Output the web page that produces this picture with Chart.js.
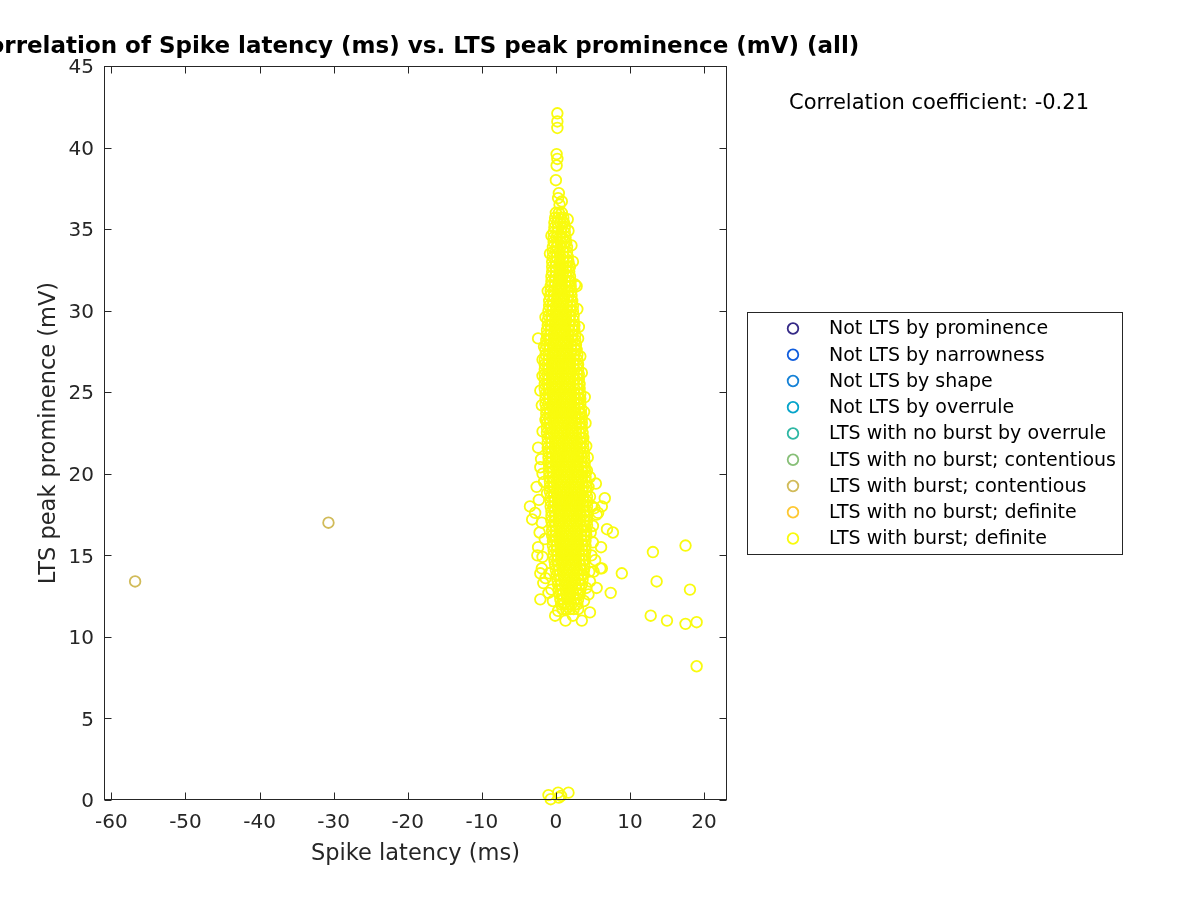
<!DOCTYPE html>
<html>
<head>
<meta charset="utf-8">
<script src="https://cdn.jsdelivr.net/npm/chart.js@4/dist/chart.umd.min.js"></script>
<style>
  body { margin: 0; background: #fff; }
  canvas { display: block; }
</style>
</head>
<body>
<canvas id="myChart" width="1200" height="900"></canvas>
<script>
// categories (legend order)
const categories = [
  'Not LTS by prominence',
  'Not LTS by narrowness',
  'Not LTS by shape',
  'Not LTS by overrule',
  'LTS with no burst by overrule',
  'LTS with no burst; contentious',
  'LTS with burst; contentious',
  'LTS with no burst; definite',
  'LTS with burst; definite'
];
const catColors = ['#352a87', '#0f5cdd', '#1481d6', '#06a4ca', '#2eb7a4',
                   '#87bf77', '#d1bb59', '#fec832', '#f9fb0e'];

const xTicks = [-60, -50, -40, -30, -20, -10, 0, 10, 20];
const yTicks = [0, 5, 10, 15, 20, 25, 30, 35, 40, 45];

// LTS with burst; contentious
const contentiousLatency = [-56.8, -30.7];
const contentiousProminence = [13.4, 17.0];

// LTS with burst; definite -- dense core, one row per prominence level
// [prominence, [latencies...]]
const coreRows = [
  [36.0, [0, 0.4, 0.8]],
  [35.7, [-0.1, 0.3, 0.7, 1.0]],
  [35.4, [-0.2, 0.2, 0.6, 1.0, 1.1]],
  [35.1, [-0.2, 0.3, 0.8, 1.2]],
  [34.8, [-0.3, 0.2, 0.7, 1.2]],
  [34.5, [-0.3, 0.1, 0.5, 0.9, 1.3]],
  [34.2, [-0.3, 0.2, 0.7, 1.2, 1.4]],
  [33.9, [-0.4, 0.1, 0.6, 1.1, 1.5]],
  [33.6, [-0.4, 0.0, 0.5, 1.0, 1.5]],
  [33.3, [-0.4, 0.1, 0.6, 1.1, 1.6]],
  [33.0, [-0.5, 0.0, 0.5, 1.0, 1.5, 1.7]],
  [32.7, [-0.5, -0.1, 0.4, 0.9, 1.4, 1.8]],
  [32.4, [-0.5, 0.0, 0.5, 1.0, 1.5, 1.8]],
  [32.1, [-0.6, -0.1, 0.4, 0.9, 1.4, 1.9]],
  [31.8, [-0.6, -0.2, 0.3, 0.8, 1.3, 1.8, 2.0]],
  [31.5, [-0.7, -0.2, 0.3, 0.8, 1.3, 1.8, 2.0]],
  [31.2, [-0.7, -0.3, 0.2, 0.7, 1.2, 1.7, 2.1]],
  [30.9, [-0.8, -0.3, 0.2, 0.7, 1.2, 1.7, 2.1]],
  [30.6, [-0.9, -0.4, 0.1, 0.6, 1.1, 1.6, 2.1, 2.2]],
  [30.3, [-0.9, -0.5, 0.0, 0.5, 1.0, 1.5, 2.0, 2.3]],
  [30.0, [-1.0, -0.5, 0.0, 0.5, 1.0, 1.5, 2.0, 2.3]],
  [29.7, [-1.0, -0.6, -0.1, 0.4, 0.9, 1.4, 1.9, 2.4]],
  [29.4, [-1.1, -0.6, -0.1, 0.4, 0.9, 1.4, 1.9, 2.4]],
  [29.1, [-1.1, -0.7, -0.2, 0.3, 0.8, 1.3, 1.8, 2.3, 2.5]],
  [28.8, [-1.2, -0.7, -0.2, 0.3, 0.8, 1.3, 1.8, 2.3, 2.5]],
  [28.5, [-1.2, -0.8, -0.3, 0.2, 0.7, 1.2, 1.7, 2.2, 2.6]],
  [28.2, [-1.3, -0.8, -0.3, 0.2, 0.7, 1.2, 1.7, 2.2, 2.6]],
  [27.9, [-1.3, -0.9, -0.4, 0.1, 0.6, 1.1, 1.6, 2.1, 2.6, 2.7]],
  [27.6, [-1.4, -0.9, -0.4, 0.1, 0.6, 1.1, 1.6, 2.1, 2.6, 2.8]],
  [27.3, [-1.4, -1.0, -0.5, 0.0, 0.5, 1.0, 1.5, 2.0, 2.5, 2.9]],
  [27.0, [-1.5, -1.0, -0.5, 0.0, 0.5, 1.0, 1.5, 2.0, 2.5, 2.9]],
  [26.7, [-1.5, -1.1, -0.6, -0.1, 0.4, 0.9, 1.4, 1.9, 2.4, 2.9, 3.0]],
  [26.4, [-1.5, -1.0, -0.5, 0.0, 0.5, 1.0, 1.5, 2.0, 2.5, 3.0]],
  [26.1, [-1.5, -1.1, -0.6, -0.1, 0.4, 0.9, 1.4, 1.9, 2.4, 2.9, 3.1]],
  [25.8, [-1.5, -1.0, -0.5, 0.0, 0.5, 1.0, 1.5, 2.0, 2.5, 3.0, 3.1]],
  [25.5, [-1.5, -1.1, -0.6, -0.1, 0.4, 0.9, 1.4, 1.9, 2.4, 2.9, 3.2]],
  [25.2, [-1.5, -1.0, -0.5, 0.0, 0.5, 1.0, 1.5, 2.0, 2.5, 3.0, 3.2]],
  [24.9, [-1.4, -1.0, -0.5, 0.0, 0.5, 1.0, 1.5, 2.0, 2.5, 3.0, 3.3]],
  [24.6, [-1.4, -0.9, -0.4, 0.1, 0.6, 1.1, 1.6, 2.1, 2.6, 3.1, 3.3]],
  [24.3, [-1.4, -1.0, -0.5, 0.0, 0.5, 1.0, 1.5, 2.0, 2.5, 3.0, 3.3]],
  [24.0, [-1.3, -0.9, -0.4, 0.1, 0.6, 1.1, 1.6, 2.1, 2.6, 3.1, 3.4]],
  [23.7, [-1.3, -0.8, -0.3, 0.2, 0.7, 1.2, 1.7, 2.2, 2.7, 3.2, 3.4]],
  [23.4, [-1.3, -0.9, -0.4, 0.1, 0.6, 1.1, 1.6, 2.1, 2.6, 3.1, 3.5]],
  [23.1, [-1.2, -0.8, -0.3, 0.2, 0.7, 1.2, 1.7, 2.2, 2.7, 3.2, 3.5]],
  [22.8, [-1.2, -0.7, -0.2, 0.3, 0.8, 1.3, 1.8, 2.3, 2.8, 3.3, 3.5]],
  [22.5, [-1.2, -0.8, -0.3, 0.2, 0.7, 1.2, 1.7, 2.2, 2.7, 3.2, 3.6]],
  [22.2, [-1.1, -0.7, -0.2, 0.3, 0.8, 1.3, 1.8, 2.3, 2.8, 3.3, 3.6]],
  [21.9, [-1.1, -0.6, -0.1, 0.4, 0.9, 1.4, 1.9, 2.4, 2.9, 3.4, 3.7]],
  [21.6, [-1.1, -0.7, -0.2, 0.3, 0.8, 1.3, 1.8, 2.3, 2.8, 3.3, 3.7]],
  [21.3, [-1.0, -0.6, -0.1, 0.4, 0.9, 1.4, 1.9, 2.4, 2.9, 3.4, 3.8]],
  [21.0, [-1.0, -0.5, 0.0, 0.5, 1.0, 1.5, 2.0, 2.5, 3.0, 3.5, 3.8]],
  [20.7, [-1.0, -0.6, -0.1, 0.4, 0.9, 1.4, 1.9, 2.4, 2.9, 3.4, 3.9]],
  [20.4, [-0.9, -0.5, 0.0, 0.5, 1.0, 1.5, 2.0, 2.5, 3.0, 3.5, 3.9]],
  [20.1, [-0.9, -0.4, 0.1, 0.6, 1.1, 1.6, 2.1, 2.6, 3.1, 3.6, 4.0]],
  [19.8, [-0.9, -0.5, 0.0, 0.5, 1.0, 1.5, 2.0, 2.5, 3.0, 3.5, 4.0]],
  [19.5, [-0.8, -0.4, 0.1, 0.6, 1.1, 1.6, 2.1, 2.6, 3.1, 3.6, 4.1]],
  [19.2, [-0.8, -0.3, 0.2, 0.7, 1.2, 1.7, 2.2, 2.7, 3.2, 3.7, 4.1]],
  [18.9, [-0.8, -0.4, 0.1, 0.6, 1.1, 1.6, 2.1, 2.6, 3.1, 3.6, 4.1]],
  [18.6, [-0.7, -0.3, 0.2, 0.7, 1.2, 1.7, 2.2, 2.7, 3.2, 3.7, 4.2]],
  [18.3, [-0.7, -0.2, 0.3, 0.8, 1.3, 1.8, 2.3, 2.8, 3.3, 3.8, 4.2]],
  [18.0, [-0.7, -0.3, 0.2, 0.7, 1.2, 1.7, 2.2, 2.7, 3.2, 3.7, 4.2]],
  [17.7, [-0.6, -0.2, 0.3, 0.8, 1.3, 1.8, 2.3, 2.8, 3.3, 3.8, 4.2]],
  [17.4, [-0.6, -0.1, 0.4, 0.9, 1.4, 1.9, 2.4, 2.9, 3.4, 3.9, 4.2]],
  [17.1, [-0.6, -0.2, 0.3, 0.8, 1.3, 1.8, 2.3, 2.8, 3.3, 3.8, 4.2]],
  [16.8, [-0.5, -0.1, 0.4, 0.9, 1.4, 1.9, 2.4, 2.9, 3.4, 3.9, 4.2]],
  [16.5, [-0.5, 0.0, 0.5, 1.0, 1.5, 2.0, 2.5, 3.0, 3.5, 4.0, 4.1]],
  [16.2, [-0.5, -0.1, 0.4, 0.9, 1.4, 1.9, 2.4, 2.9, 3.4, 3.9, 4.1]],
  [15.9, [-0.4, 0.0, 0.5, 1.0, 1.5, 2.0, 2.5, 3.0, 3.5, 4.0]],
  [15.6, [-0.4, 0.1, 0.6, 1.1, 1.6, 2.1, 2.6, 3.1, 3.6, 4.0]],
  [15.3, [-0.3, 0.1, 0.6, 1.1, 1.6, 2.1, 2.6, 3.1, 3.6, 4.0]],
  [15.0, [-0.3, 0.2, 0.7, 1.2, 1.7, 2.2, 2.7, 3.2, 3.7, 3.9]],
  [14.7, [-0.2, 0.2, 0.7, 1.2, 1.7, 2.2, 2.7, 3.2, 3.7, 3.9]],
  [14.4, [-0.1, 0.3, 0.8, 1.3, 1.8, 2.3, 2.8, 3.3, 3.8]],
  [14.1, [0.0, 0.4, 0.9, 1.4, 1.9, 2.4, 2.9, 3.4, 3.8]],
  [13.8, [0.1, 0.5, 1.0, 1.5, 2.0, 2.5, 3.0, 3.5, 3.7]],
  [13.5, [0.2, 0.6, 1.1, 1.6, 2.1, 2.6, 3.1, 3.6]],
  [13.2, [0.3, 0.7, 1.2, 1.7, 2.2, 2.7, 3.2, 3.5]],
  [12.9, [0.4, 0.8, 1.3, 1.8, 2.3, 2.8, 3.3]],
  [12.6, [0.5, 0.9, 1.4, 1.9, 2.4, 2.9, 3.2]],
  [12.3, [0.6, 1.0, 1.5, 2.0, 2.5, 3.0]],
  [12.0, [0.7, 1.1, 1.6, 2.1, 2.6, 2.9]],
  [11.7, [0.9, 1.4, 1.9, 2.4]]
];

// LTS with burst; definite -- scattered points outside the core [latency, prominence]
const definiteScatter = [
  [0.2, 42.1], [0.2, 41.6], [0.2, 41.2], [0.1, 39.6], [0.2, 39.3], [0.1, 38.9],
  [0.0, 38.0], [0.4, 37.2], [0.3, 36.9], [0.5, 36.5], [0.8, 36.7],
  [1.7, 34.9], [1.9, 32.7], [2.8, 31.5], [2.6, 31.6], [-2.4, 28.3], [3.0, 28.3],
  [-2.1, 25.1], [3.9, 24.7], [3.5, 26.2], [-1.4, 23.3], [-2.4, 21.6], [-2.1, 20.4],
  [-1.8, 20.0], [-2.0, 20.9], [-3.5, 18.0], [-3.2, 17.2], [-2.1, 13.9], [-2.1, 12.3],
  [-1.0, 12.7], [-1.7, 13.3], [-2.4, 15.5], [-1.8, 14.9], [-1.5, 16.0], [-1.2, 18.8],
  [3.7, 22.2], [4.2, 20.2], [4.6, 19.8], [4.4, 19.2], [4.9, 18.0], [5.0, 16.8],
  [4.8, 15.0], [4.5, 14.0],
  [-2.6, 19.2], [-2.3, 18.4], [-2.8, 17.6], [-1.9, 17.0], [-2.2, 16.4], [-1.6, 19.5],
  [-2.5, 15.0], [-1.9, 14.2], [-1.4, 13.6], [-0.9, 13.9], [-0.6, 12.9], [-0.4, 12.2],
  [0.3, 11.6], [2.3, 11.3], [3.0, 11.7], [3.8, 12.2], [4.1, 13.0], [4.6, 13.4],
  [5.5, 13.0], [5.0, 15.8], [4.7, 16.4], [5.2, 17.9], [4.6, 18.6], [5.4, 19.4],
  [4.3, 21.0], [4.1, 21.7], [4.0, 23.1], [3.8, 23.8], [-1.8, 22.6], [-1.9, 24.2],
  [-1.8, 26.0], [-1.8, 27.0], [-1.6, 27.8], [3.3, 27.2], [3.1, 29.0], [2.9, 30.1],
  [-1.4, 29.6], [-1.1, 31.2], [2.3, 33.0], [2.1, 34.0], [-0.8, 33.5], [-0.6, 34.6],
  [1.6, 35.6],
  [6.6, 18.5], [6.2, 18.0], [5.7, 17.6], [5.5, 17.5], [6.9, 16.6], [7.7, 16.4],
  [6.1, 15.5], [8.9, 13.9], [7.4, 12.7], [4.6, 11.5], [3.5, 11.0], [1.3, 11.0],
  [-0.1, 11.3], [5.3, 14.7], [6.0, 14.2], [5.1, 14.0], [6.2, 14.2], [4.4, 12.6],
  [13.1, 15.2], [13.6, 13.4], [17.5, 15.6], [18.1, 12.9], [12.8, 11.3], [15.0, 11.0],
  [17.5, 10.8], [19.0, 10.9], [19.0, 8.2],
  [-1.0, 0.3], [-0.7, 0.05], [0.3, 0.45], [0.7, 0.25], [1.7, 0.45], [0.4, 0.15]
];

const corrText = 'Correlation coefficient: -0.21';

// build point lists
const definitePoints = [];
coreRows.forEach(([y, xs]) => xs.forEach(x => definitePoints.push({ x: x, y: y })));
definiteScatter.forEach(([x, y]) => definitePoints.push({ x: x, y: y }));
const contentiousPoints = contentiousLatency.map((x, i) => ({ x: x, y: contentiousProminence[i] }));

const seriesData = categories.map(() => []);
seriesData[6] = contentiousPoints;
seriesData[8] = definitePoints;

const FONT = 'DejaVu Sans';
const AXIS_COL = '#262626';

const datasets = categories.map((label, i) => ({
  label: label,
  data: seriesData[i],
  borderColor: catColors[i],
  backgroundColor: 'rgba(0,0,0,0)',
  pointRadius: 5.3,
  pointBorderWidth: 1.8,
  pointHoverRadius: 5.3,
  showLine: false,
  clip: false
}));

// matlab-ish box, inward ticks, title, legend and text
const matlabDecor = {
  id: 'matlabDecor',
  afterDraw(chart) {
    const ctx = chart.ctx;
    const a = chart.chartArea;
    const xs = chart.scales.x, ys = chart.scales.y;
    ctx.save();
    ctx.strokeStyle = AXIS_COL;
    ctx.lineWidth = 1;
    const L = Math.round(a.left) + 0.5, R = Math.round(a.right) - 0.5;
    const T = Math.round(a.top) + 0.5, B = Math.round(a.bottom) - 0.5;
    ctx.strokeRect(L, T, R - L, B - T);
    const tl = 7;
    ctx.beginPath();
    xTicks.forEach(v => {
      const px = Math.round(xs.getPixelForValue(v)) + 0.5;
      ctx.moveTo(px, B); ctx.lineTo(px, B - tl);
      ctx.moveTo(px, T); ctx.lineTo(px, T + tl);
    });
    yTicks.forEach(v => {
      const py = Math.round(ys.getPixelForValue(v)) + 0.5;
      ctx.moveTo(L, py); ctx.lineTo(L + tl, py);
      ctx.moveTo(R, py); ctx.lineTo(R - tl, py);
    });
    ctx.stroke();

    // title
    ctx.fillStyle = '#000';
    ctx.font = 'bold 23px "' + FONT + '"';
    ctx.textAlign = 'center';
    ctx.textBaseline = 'middle';
    ctx.fillText('Correlation of Spike latency (ms) vs. LTS peak prominence (mV) (all)',
      (a.left + a.right) / 2, 47);

    // correlation text
    ctx.font = '21px "' + FONT + '"';
    ctx.textAlign = 'left';
    ctx.fillStyle = '#000';
    ctx.fillText(corrText, 789, 104);

    // legend
    ctx.strokeStyle = AXIS_COL;
    ctx.lineWidth = 1;
    ctx.fillStyle = '#fff';
    ctx.fillRect(747.5, 312.5, 375, 242);
    ctx.strokeRect(747.5, 312.5, 375, 242);
    ctx.font = '19px "' + FONT + '"';
    chart.data.datasets.forEach((ds, i) => {
      const cy = 328.5 + i * 26.25;
      ctx.beginPath();
      ctx.strokeStyle = ds.borderColor;
      ctx.lineWidth = 1.8;
      ctx.arc(793, cy, 5.3, 0, Math.PI * 2);
      ctx.stroke();
      ctx.fillStyle = '#000';
      ctx.fillText(ds.label, 829, cy + 1);
    });
    ctx.restore();
  }
};

new Chart(document.getElementById('myChart'), {
  type: 'scatter',
  data: { datasets: datasets },
  options: {
    responsive: false,
    devicePixelRatio: 1,
    animation: false,
    events: [],
    layout: { padding: { top: 66, right: 473, left: 0, bottom: 0 } },
    plugins: {
      legend: { display: false },
      tooltip: { enabled: false },
      title: { display: false }
    },
    scales: {
      x: {
        type: 'linear',
        min: -61,
        max: 23.1,
        grid: { display: false, drawTicks: false },
        border: { display: false },
        afterBuildTicks: s => { s.ticks = xTicks.map(v => ({ value: v })); },
        afterFit: s => { s.height = 100; },
        ticks: { font: { family: FONT, size: 20 }, color: AXIS_COL, padding: 11, maxRotation: 0 },
        title: {
          display: true, text: 'Spike latency (ms)', color: AXIS_COL,
          font: { family: FONT, size: 22.5 }, padding: { top: 0, bottom: 32 }
        }
      },
      y: {
        type: 'linear',
        min: 0,
        max: 45,
        grid: { display: false, drawTicks: false },
        border: { display: false },
        afterBuildTicks: s => { s.ticks = yTicks.map(v => ({ value: v })); },
        afterFit: s => { s.width = 104; },
        ticks: { font: { family: FONT, size: 20 }, color: AXIS_COL, padding: 10, labelOffset: 2 },
        title: {
          display: true, text: 'LTS peak prominence (mV)', color: AXIS_COL,
          font: { family: FONT, size: 22.5 }, padding: { top: 36, bottom: 0 }
        }
      }
    }
  },
  plugins: [matlabDecor]
});
</script>
</body>
</html>
